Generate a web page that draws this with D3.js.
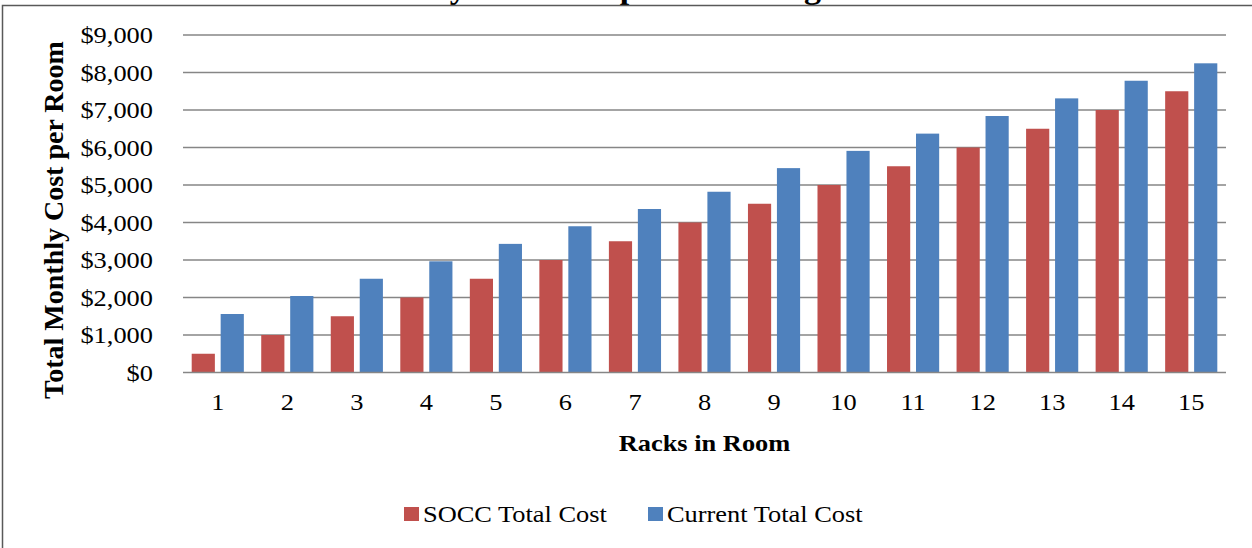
<!DOCTYPE html>
<html>
<head>
<meta charset="utf-8">
<script src="https://cdn.jsdelivr.net/npm/d3@7"></script>
<style>
  body { margin: 0; background: #fff; }
  svg { display: block; font-family: "Liberation Serif", "Times New Roman", serif; }
</style>
</head>
<body>
<div id="chart"></div>
<script>
// data
const racks = ["1","2","3","4","5","6","7","8","9","10","11","12","13","14","15"];
const seriesNames = ["SOCC Total Cost", "Current Total Cost"];
const soccCost = [500,1000,1500,2000,2500,3000,3500,4000,4500,5000,5500,6000,6500,7000,7500];
const currentCost = [1560,2040,2500,2965,3430,3900,4360,4820,5450,5910,6370,6840,7310,7780,8245];
const yTicks = [0,1000,2000,3000,4000,5000,6000,7000,8000,9000];
const colors = ["#C0504D", "#4F81BD"];

const W = 1252, H = 548;
const plot = {left: 183, right: 1226, top: 35, bottom: 372.5};
// the original text looks a bit wider than Times, stretch it sideways
const sx = 1.1;

const svg = d3.select("#chart")
  .append("svg")
  .attr("width", W)
  .attr("height", H);

// title sits above the frame, only its descenders show
svg.append("text")
  .text("Monthly Cost Comparison Using SOCC")
  .attr("x", 342)
  .attr("y", -2)
  .style("font-weight", "bold")
  .style("font-size", "34px");

// chart frame
svg.append("rect")
  .attr("x", 2.5)
  .attr("y", 5.5)
  .attr("width", W + 10)
  .attr("height", H + 10)
  .attr("fill", "none")
  .attr("stroke", "#595959")
  .attr("stroke-width", 1.5);

// scales
const x = d3.scaleBand()
  .domain(racks)
  .range([plot.left, plot.right]);

const xSub = d3.scaleBand()
  .domain(seriesNames)
  .range([0, x.bandwidth()])
  .paddingInner(0.2)
  .paddingOuter(0.3);

const y = d3.scaleLinear()
  .domain([0, 9000])
  .range([plot.bottom, plot.top]);

// gridlines
svg.append("g")
  .selectAll("line")
  .data(yTicks.slice(1))
  .join("line")
    .attr("x1", plot.left)
    .attr("x2", plot.right)
    .attr("y1", d => y(d))
    .attr("y2", d => y(d))
    .attr("stroke", "#868686")
    .attr("stroke-width", 1.4);

// Y axis labels
const fmt = d3.format("$,");
svg.append("g")
  .selectAll("text")
  .data(yTicks)
  .join("text")
    .attr("transform", d => `translate(153,${y(d) + 8})scale(${sx},1)`)
    .attr("text-anchor", "end")
    .style("font-size", "24px")
    .text(d => fmt(d));

// bars
const rows = racks.map((r, i) => ({rack: r, values: [soccCost[i], currentCost[i]]}));

svg.append("g")
  .selectAll("g")
  .data(rows)
  .join("g")
    .attr("transform", d => `translate(${x(d.rack)},0)`)
  .selectAll("rect")
  .data(d => d.values.map((v, j) => ({name: seriesNames[j], value: v, j: j})))
  .join("rect")
    .attr("x", d => xSub(d.name))
    .attr("width", xSub.bandwidth())
    .attr("y", d => y(d.value))
    .attr("height", d => y(0) - y(d.value))
    .attr("fill", d => colors[d.j]);

// X axis baseline
svg.append("line")
  .attr("x1", plot.left)
  .attr("x2", plot.right)
  .attr("y1", y(0))
  .attr("y2", y(0))
  .attr("stroke", "#868686")
  .attr("stroke-width", 1.6);

// X labels
svg.append("g")
  .selectAll("text")
  .data(racks)
  .join("text")
    .attr("transform", d => `translate(${x(d) + x.bandwidth() / 2},410)scale(${sx},1)`)
    .attr("text-anchor", "middle")
    .style("font-size", "24px")
    .text(d => d);

// axis titles
svg.append("text")
  .text("Racks in Room")
  .attr("transform", `translate(${(plot.left + plot.right) / 2},451)scale(${sx},1)`)
  .attr("text-anchor", "middle")
  .style("font-weight", "bold")
  .style("font-size", "24px");

svg.append("text")
  .text("Total Monthly Cost per Room")
  .attr("transform", "translate(63,220)rotate(-90)")
  .attr("text-anchor", "middle")
  .style("font-weight", "bold")
  .style("font-size", "28px");

// legend
const legendX = [404, 648];
const legend = svg.append("g")
  .selectAll("g")
  .data(seriesNames)
  .join("g")
    .attr("transform", (d, i) => `translate(${legendX[i]},507)`);
legend.append("rect")
  .attr("width", 15)
  .attr("height", 14)
  .attr("fill", (d, i) => colors[i]);
legend.append("text")
  .attr("transform", `translate(19,15)scale(${sx},1)`)
  .style("font-size", "24px")
  .text(d => d);
</script>
</body>
</html>
